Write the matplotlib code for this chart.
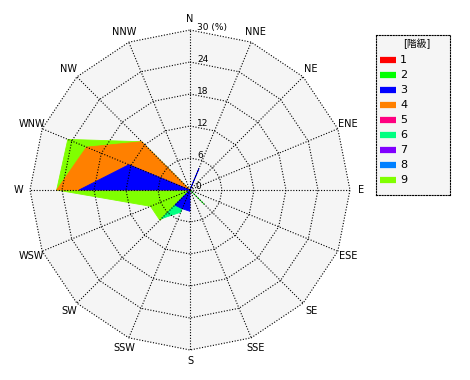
import matplotlib
matplotlib.use("Agg")
import matplotlib.pyplot as plt
import numpy as np

# 16 directions, clockwise from north
directions = ['N', 'NNE', 'NE', 'ENE', 'E', 'ESE', 'SE', 'SSE',
              'S', 'SSW', 'SW', 'WSW', 'W', 'WNW', 'NW', 'NNW']
levels = ['1', '2', '3', '4', '5', '6', '7', '8', '9']
colors = ['#ff0000', '#00ff00', '#0000ff', '#ff8000', '#ff0080',
          '#00ff80', '#8000ff', '#0080ff', '#80ff00']

# frequency (%) per level, in direction order above
lv1 = [0, 0, 0, 0, 0, 0, 0, 0, 0, 0, 0, 0, 0, 0, 0, 0]
lv2 = [0, 0, 0, 0, 0, 0, 3.8, 0, 0, 0, 0, 0, 0, 0, 0, 0]
lv3 = [0, 4.4, 0, 0, 0, 0, 0, 0, 4.0, 3.8, 4.0, 0, 20.8, 12.4, 0, 0]
lv4 = [0, 0, 0, 0, 0, 0, 0, 0, 0, 0, 0, 0, 25.0, 21.0, 12.8, 0]
lv5 = [0, 0, 0, 0, 0, 0, 0, 0, 0, 0, 0, 0, 0, 0, 0, 0]
lv6 = [0, 0, 0, 0, 0, 0, 0, 0, 0, 4.5, 7.6, 0, 0, 0, 0, 0]
lv7 = [0, 0, 0, 0, 0, 0, 0, 0, 0, 0, 0, 0, 0, 0, 0, 0]
lv8 = [0, 0, 0, 0, 0, 0, 0, 0, 0, 0, 0, 0, 0, 0, 0, 0]
lv9 = [0, 0, 0, 0, 0, 0, 0, 0, 0, 3.0, 8.0, 8.0, 25.0, 24.8, 12.8, 0]
series = [lv1, lv2, lv3, lv4, lv5, lv6, lv7, lv8, lv9]

rings = [6, 12, 18, 24, 30]
rmax = 30

theta = np.deg2rad(90 - np.arange(16) * 22.5)


def to_xy(r):
    r = np.asarray(r, dtype=float)
    return r * np.cos(theta), r * np.sin(theta)


fig = plt.figure(figsize=(4.7, 3.8), dpi=100)
lim = 33.75
ax = fig.add_axes([10 / 470, 10 / 380, 360 / 470, 360 / 380])
ax.set_xlim(-lim, lim)
ax.set_ylim(-lim, lim)
ax.set_aspect('equal')
ax.axis('off')

# background 16-gon
bx, by = to_xy(np.full(16, rmax))
ax.fill(bx, by, color='#f5f5f5', zorder=0, lw=0)

# last level drawn first so lower levels sit on top
for vals, c in reversed(list(zip(series, colors))):
    x, y = to_xy(vals)
    if max(vals) > 0:
        ax.fill(x, y, color=c, lw=0.6, ec=c, zorder=1)

# grid
for r in rings:
    x, y = to_xy(np.full(16, r))
    ax.plot(np.append(x, x[0]), np.append(y, y[0]), ls=(0, (1, 1.5)),
            color='black', lw=0.8, zorder=3)
for t in theta:
    ax.plot([0, rmax * np.cos(t)], [0, rmax * np.sin(t)], ls=(0, (1, 1.5)),
            color='black', lw=0.8, zorder=3)

# direction labels
lx, ly = to_xy(np.full(16, 32.1))
for d, x, y in zip(directions, lx, ly):
    ax.text(x, y, d, ha='center', va='center', fontsize=7, zorder=4)

# radial tick labels
ax.text(1.0, 0.6, '0', fontsize=6.5, ha='left', va='center', zorder=4)
for r in rings[:-1]:
    ax.text(1.3, r + 0.5, str(r), fontsize=6.5, ha='left', va='center', zorder=4)
ax.text(1.3, rmax + 0.5, '30 (%)', fontsize=6.5, ha='left', va='center', zorder=4)

# legend box
lax = fig.add_axes([375.7 / 470, (380 - 195) / 380, 74.3 / 470, 160 / 380])
lax.set_xlim(0, 74.3)
lax.set_ylim(160, 0)
lax.set_facecolor('#f5f5f5')
lax.set_xticks([])
lax.set_yticks([])
for sp in lax.spines.values():
    sp.set_linestyle((0, (1, 1.5)))
    sp.set_linewidth(0.8)
lax.text(41, 8.5, '[階級]', ha='center', va='center', fontsize=7,
         family=['DejaVu Sans', 'Noto Sans CJK JP'])
for i, (lab, c) in enumerate(zip(levels, colors)):
    yy = 25 + i * 15
    lax.plot([4.5, 20.5], [yy, yy], color=c, lw=4.5, solid_capstyle='butt')
    lax.text(24.5, yy, lab, ha='left', va='center', fontsize=8)

fig.savefig('out.png', dpi=100, facecolor='white')
